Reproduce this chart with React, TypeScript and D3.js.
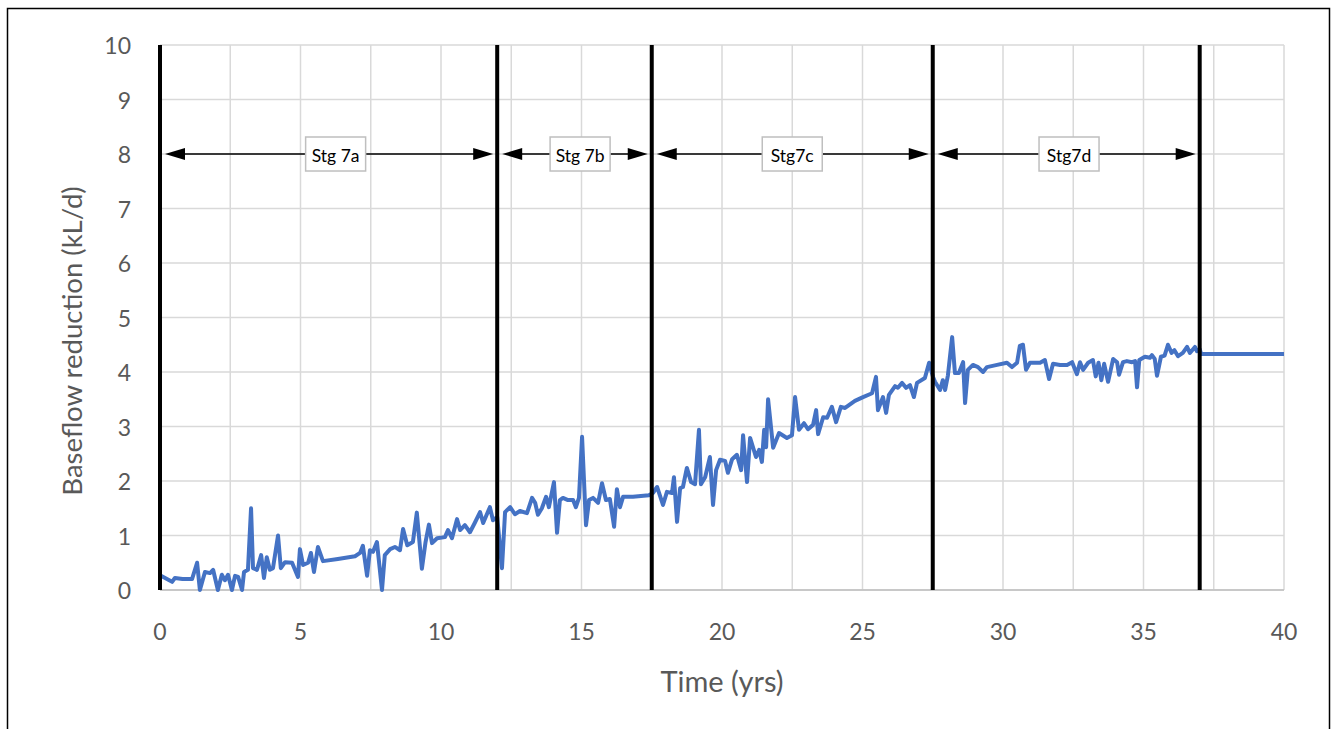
import React from "react";
import * as d3 from "d3";

const xTicks = [0, 5, 10, 15, 20, 25, 30, 35, 40];
const yTicks = [0, 1, 2, 3, 4, 5, 6, 7, 8, 9, 10];
const stageBounds = [0, 12, 17.5, 27.5, 37];
const stageLabels = ["Stg 7a", "Stg 7b", "Stg7c", "Stg7d"];
const stageLabelX = [6.25, 14.95, 22.5, 32.35];
const arrowLevel = 8;

const time = [
  0, 0.43, 0.53, 0.8, 1.14, 1.32, 1.42, 1.6, 1.78, 1.89, 2.06, 2.2, 2.31, 2.42, 2.56, 2.67, 2.78, 2.92, 2.99, 3.13,
  3.24, 3.31, 3.45, 3.6, 3.7, 3.8, 3.91, 4.02, 4.2, 4.3, 4.45, 4.7, 4.91, 4.98, 5.09, 5.27, 5.37, 5.48, 5.62, 5.8,
  6.33, 6.94, 7.12, 7.22, 7.37, 7.47, 7.58, 7.72, 7.9, 8.0, 8.19, 8.36, 8.54, 8.65, 8.8, 9.0, 9.14, 9.32, 9.45, 9.57,
  9.68, 9.86, 10.14, 10.25, 10.39, 10.57, 10.68, 10.85, 11.03, 11.2, 11.39, 11.5, 11.74, 11.85, 12.0, 12.17, 12.28, 12.46, 12.63, 12.81,
  13.06, 13.24, 13.35, 13.45, 13.59, 13.74, 13.84, 14.02, 14.13, 14.23, 14.34, 14.52, 14.7, 14.8, 14.91, 15.02, 15.16, 15.27, 15.41, 15.59,
  15.73, 15.87, 16.01, 16.16, 16.26, 16.37, 16.48, 16.83, 17.4, 17.54, 17.69, 17.9, 18.04, 18.22, 18.29, 18.4, 18.51, 18.61, 18.75, 18.9,
  19.04, 19.18, 19.25, 19.4, 19.57, 19.68, 19.79, 19.93, 20.11, 20.21, 20.36, 20.53, 20.68, 20.75, 20.89, 21.0, 21.21, 21.32, 21.42, 21.5,
  21.57, 21.64, 21.82, 22.03, 22.31, 22.49, 22.6, 22.74, 22.92, 23.06, 23.24, 23.35, 23.42, 23.6, 23.74, 23.91, 24.06, 24.23, 24.38, 24.73,
  25.02, 25.34, 25.48, 25.55, 25.73, 25.84, 25.94, 26.16, 26.26, 26.41, 26.55, 26.69, 26.83, 26.94, 27.22, 27.37, 27.51, 27.58, 27.76, 27.86,
  27.94, 28.04, 28.19, 28.29, 28.43, 28.58, 28.65, 28.75, 28.93, 29.11, 29.29, 29.43, 29.79, 30.14, 30.32, 30.5, 30.6, 30.71, 30.82, 30.96,
  31.32, 31.49, 31.64, 31.78, 32.03, 32.28, 32.46, 32.63, 32.74, 32.85, 33.03, 33.2, 33.3, 33.4, 33.5, 33.6, 33.74, 33.92, 34.06, 34.13,
  34.27, 34.41, 34.59, 34.7, 34.77, 34.85, 35.05, 35.23, 35.3, 35.4, 35.48, 35.62, 35.75, 35.87, 36.0, 36.1, 36.23, 36.4, 36.55, 36.65,
  36.83, 36.9, 37.0, 37.05, 40,
];

const baseflow = [
  0.27, 0.15, 0.22, 0.2, 0.2, 0.5, 0, 0.33, 0.31, 0.37, 0, 0.28, 0.18, 0.28, 0, 0.26, 0.24, 0, 0.33, 0.37,
  1.5, 0.4, 0.37, 0.64, 0.22, 0.6, 0.37, 0.4, 1.0, 0.4, 0.51, 0.5, 0.24, 0.75, 0.46, 0.5, 0.68, 0.33, 0.79, 0.53,
  0.57, 0.62, 0.68, 0.81, 0.26, 0.73, 0.7, 0.88, 0, 0.64, 0.75, 0.79, 0.73, 1.12, 0.82, 0.88, 1.42, 0.39, 0.88, 1.2,
  0.86, 0.95, 0.97, 1.1, 0.95, 1.3, 1.1, 1.19, 1.06, 1.23, 1.43, 1.23, 1.52, 1.28, 1.34, 0.4, 1.43, 1.52, 1.39, 1.45,
  1.41, 1.69, 1.6, 1.38, 1.5, 1.71, 1.52, 1.98, 1.05, 1.65, 1.69, 1.65, 1.65, 1.52, 1.69, 2.81, 1.19, 1.65, 1.69, 1.6,
  1.96, 1.65, 1.67, 1.16, 1.85, 1.52, 1.71, 1.71, 1.74, 1.78, 1.89, 1.56, 1.8, 1.78, 2.07, 1.25, 1.87, 1.89, 2.24, 1.98,
  1.94, 2.94, 1.94, 2.07, 2.44, 1.56, 2.2, 2.39, 2.37, 2.15, 2.4, 2.48, 2.2, 2.84, 1.98, 2.79, 2.44, 2.57, 2.35, 2.94,
  2.62, 3.5, 2.61, 2.88, 2.79, 2.84, 3.54, 2.94, 3.06, 2.95, 3.03, 3.3, 2.86, 3.17, 3.16, 3.36, 3.08, 3.36, 3.34, 3.47,
  3.54, 3.61, 3.91, 3.3, 3.54, 3.25, 3.58, 3.74, 3.71, 3.8, 3.71, 3.76, 3.54, 3.8, 3.89, 4.17, 3.91, 3.82, 3.67, 3.85,
  3.67, 3.94, 4.64, 3.98, 3.98, 4.18, 3.43, 4.04, 4.13, 4.09, 4.0, 4.09, 4.13, 4.17, 4.09, 4.17, 4.48, 4.5, 4.04, 4.17,
  4.17, 4.22, 3.87, 4.15, 4.13, 4.13, 4.18, 3.96, 4.18, 4.04, 4.17, 4.22, 3.92, 4.17, 3.85, 4.15, 3.82, 4.24, 4.18, 3.95,
  4.18, 4.2, 4.18, 4.2, 3.72, 4.22, 4.28, 4.26, 4.31, 4.24, 3.93, 4.28, 4.3, 4.5, 4.35, 4.4, 4.29, 4.35, 4.46, 4.35,
  4.46, 4.38, 4.42, 4.33, 4.33,
];

const FONT = "Lato, 'Open Sans', sans-serif";

export default function App() {
  const W = 1337;
  const H = 729;
  const x = d3.scaleLinear().domain([0, 40]).range([160, 1284]);
  const y = d3.scaleLinear().domain([0, 10]).range([590, 45]);
  const gridX = d3.range(0, 40.001, 2.5);
  const gridY = yTicks;
  const pts = time.map((t, i) => [t, baseflow[i]] as [number, number]);
  const line = d3
    .line<[number, number]>()
    .x((d) => x(d[0]))
    .y((d) => y(d[1]));
  const ay = y(arrowLevel);
  const headL = 20;
  const headH = 6;

  return (
    <svg
      width={W}
      height={H}
      style={{ position: "absolute", left: 0, top: 0, background: "#fff" }}
    >
      <rect x={7.5} y={8.5} width={1322} height={740} fill="#fff" stroke="#000" strokeWidth={1.5} />
      {gridX.map((g) => (
        <line key={"gx" + g} x1={x(g)} x2={x(g)} y1={y(10)} y2={y(0)} stroke="#d9d9d9" strokeWidth={1.5} />
      ))}
      {gridY.map((g) => (
        <line key={"gy" + g} x1={x(0)} x2={x(40)} y1={y(g)} y2={y(g)} stroke="#d9d9d9" strokeWidth={1.5} />
      ))}
      <line x1={x(0)} x2={x(40)} y1={y(0)} y2={y(0)} stroke="#bfbfbf" strokeWidth={1.5} />
      <path d={line(pts) || ""} fill="none" stroke="#4472C4" strokeWidth={4} strokeLinejoin="round" />
      {stageBounds.map((b) => (
        <line key={"sb" + b} x1={x(b)} x2={x(b)} y1={y(10)} y2={y(0)} stroke="#000" strokeWidth={4} />
      ))}
      {stageLabels.map((lab, i) => {
        const x0 = x(stageBounds[i]) + 5;
        const x1 = x(stageBounds[i + 1]) - 4;
        const cx = x(stageLabelX[i]);
        return (
          <g key={lab}>
            <line x1={x0 + headL - 2} x2={x1 - headL + 2} y1={ay} y2={ay} stroke="#000" strokeWidth={1.5} />
            <polygon points={`${x0},${ay} ${x0 + headL},${ay - headH} ${x0 + headL},${ay + headH}`} fill="#000" />
            <polygon points={`${x1},${ay} ${x1 - headL},${ay - headH} ${x1 - headL},${ay + headH}`} fill="#000" />
            <rect x={cx - 30} y={ay - 17} width={60} height={34} fill="#fff" stroke="#bfbfbf" strokeWidth={1.5} />
            <text x={cx} y={ay + 1} textAnchor="middle" dominantBaseline="central" fontFamily={FONT} fontSize={17.5} fill="#000">
              {lab}
            </text>
          </g>
        );
      })}
      {yTicks.map((t) => (
        <text key={"yt" + t} x={131} y={y(t)} textAnchor="end" dominantBaseline="central" fontFamily={FONT} fontSize={23} fill="#595959">
          {t}
        </text>
      ))}
      {xTicks.map((t) => (
        <text key={"xt" + t} x={x(t)} y={631} textAnchor="middle" dominantBaseline="central" fontFamily={FONT} fontSize={23} fill="#595959">
          {t}
        </text>
      ))}
      <text x={722} y={680} textAnchor="middle" dominantBaseline="central" fontFamily={FONT} fontSize={29} fill="#595959">
        Time (yrs)
      </text>
      <text
        transform={`translate(71, 341) rotate(-90)`}
        textAnchor="middle"
        dominantBaseline="central"
        fontFamily={FONT}
        fontSize={27.5}
        fill="#595959"
      >
        Baseflow reduction (kL/d)
      </text>
    </svg>
  );
}
